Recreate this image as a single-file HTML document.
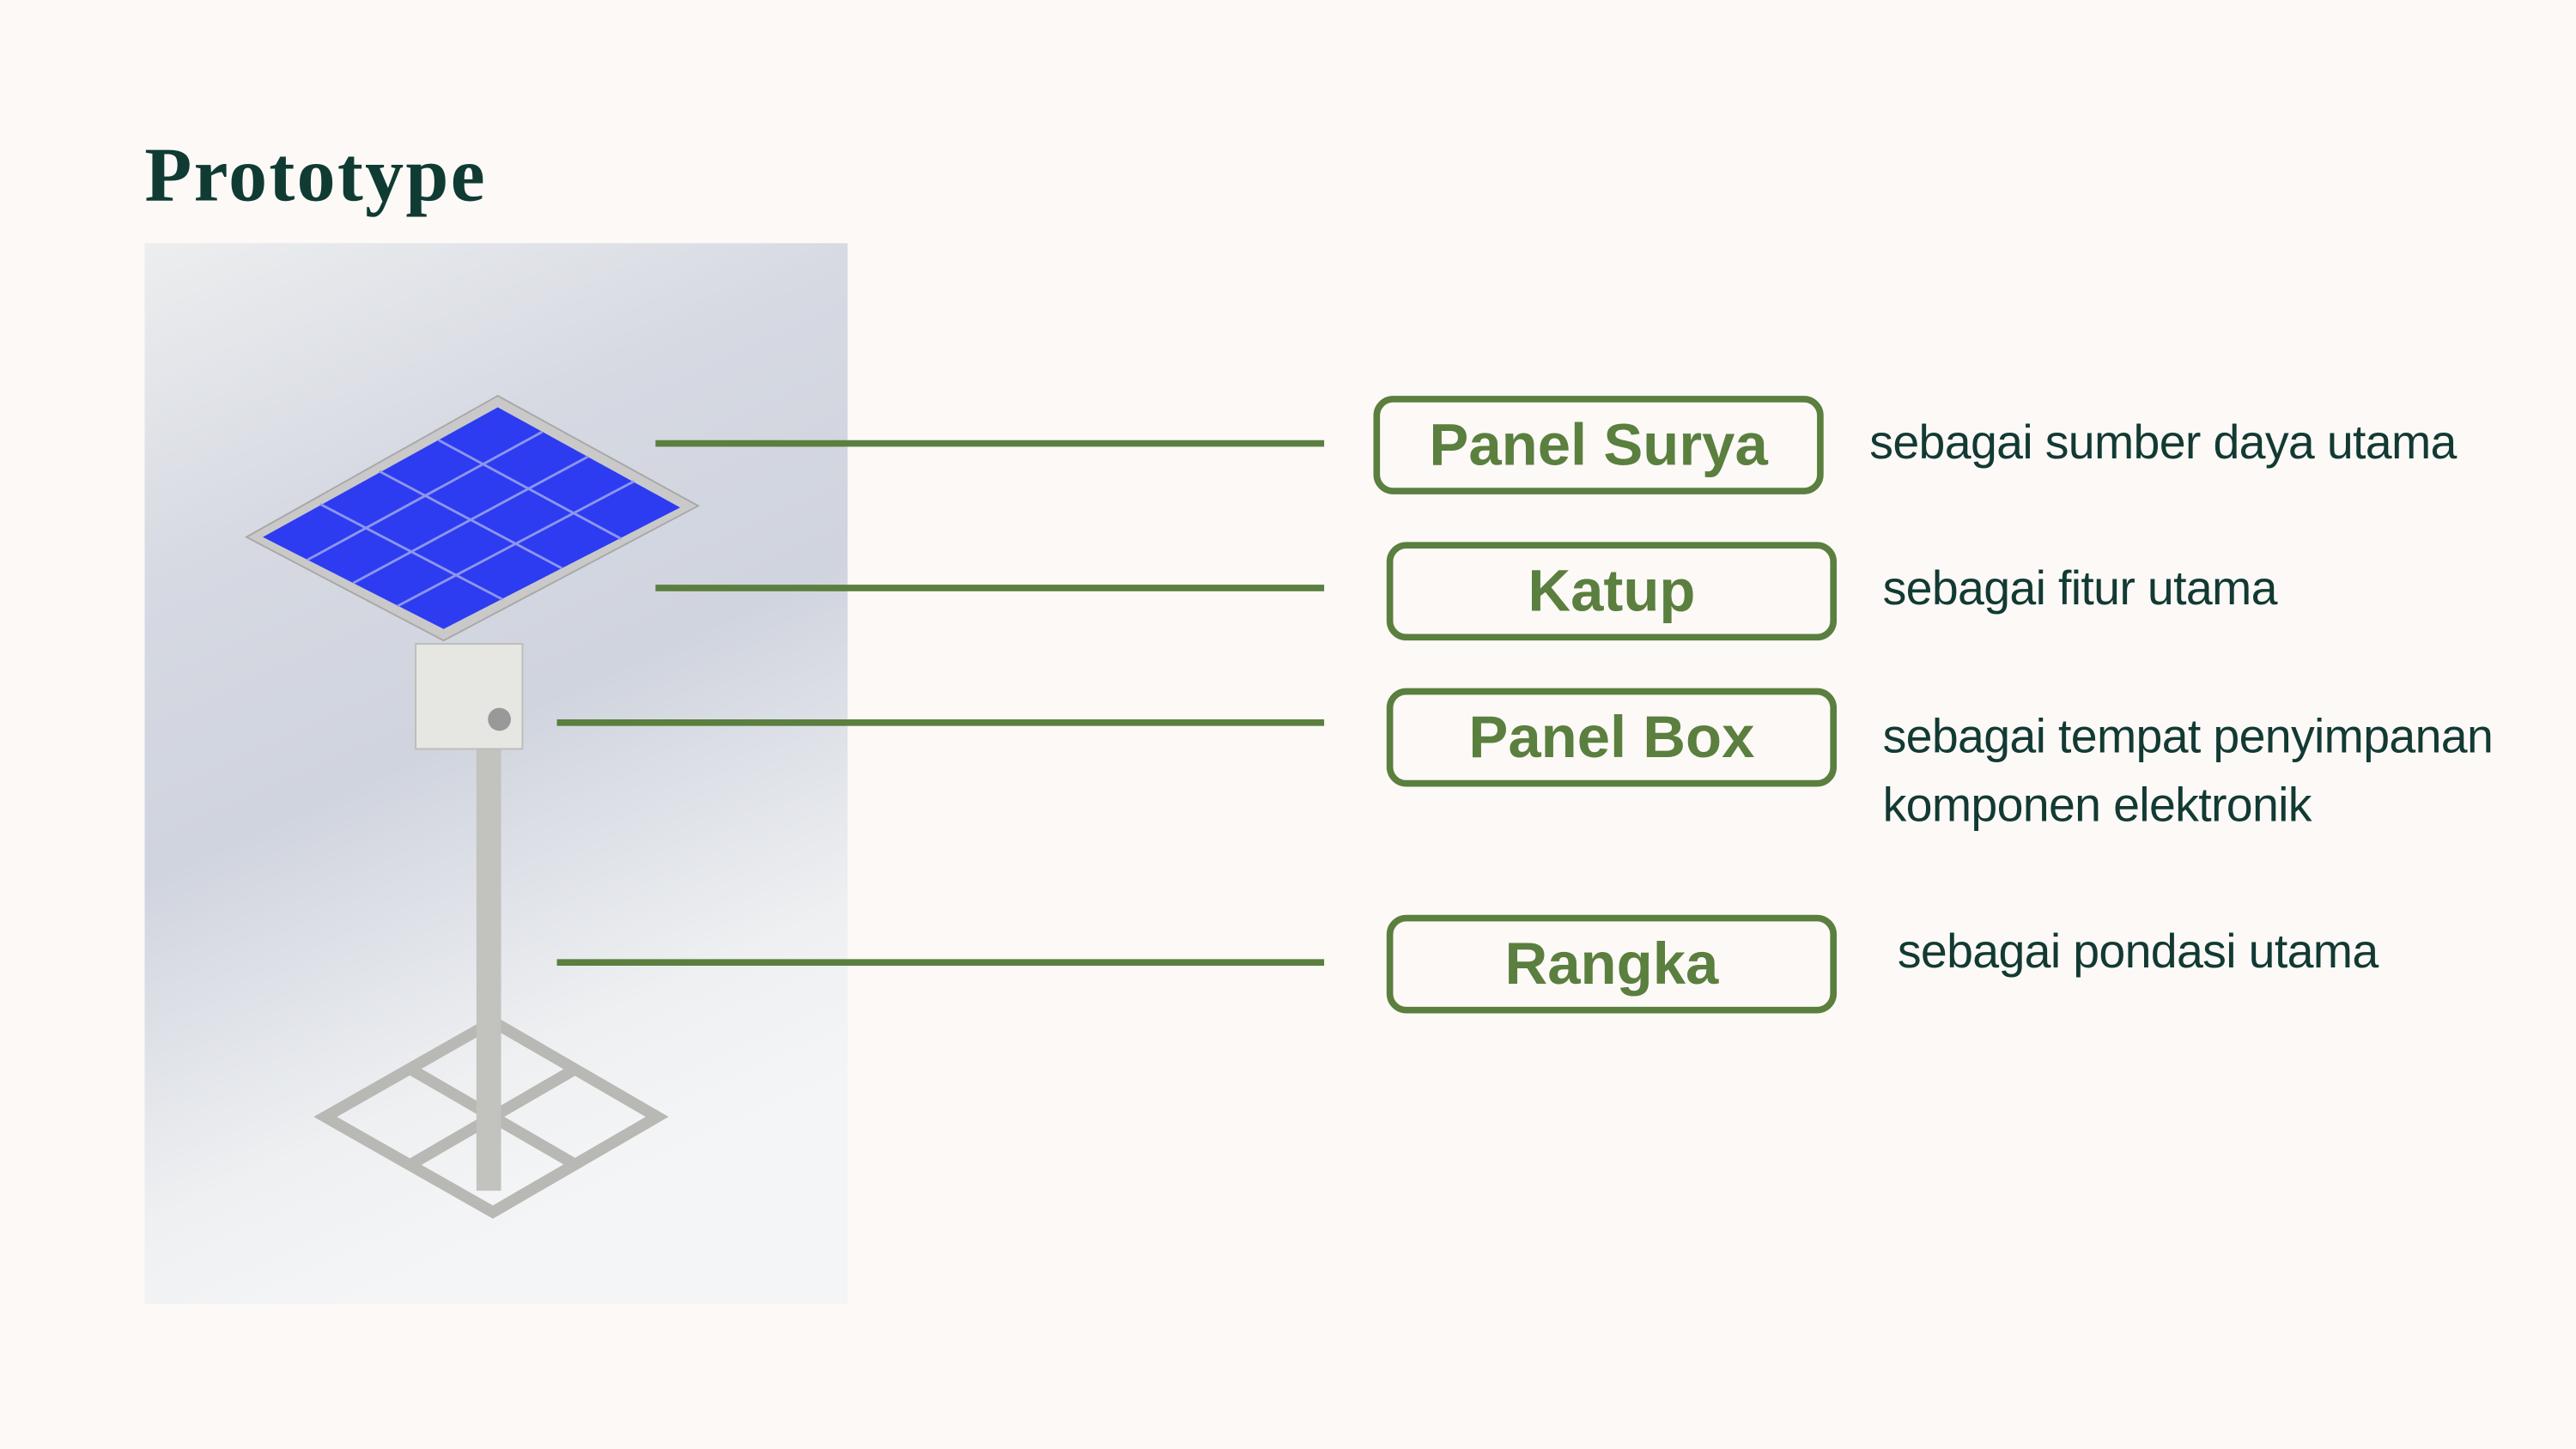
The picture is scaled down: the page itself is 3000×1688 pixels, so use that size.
<!DOCTYPE html>
<html><head><meta charset="utf-8">
<style>
html,body{margin:0;padding:0;background:#fdf9f7;}
#wrap{width:1568px;height:882px;transform:scale(1.91327);transform-origin:0 0;position:relative;background:#fdf9f7;font-family:"Liberation Sans",sans-serif;}
.title{position:absolute;left:88px;top:80px;font-family:"Liberation Serif",serif;font-weight:bold;font-size:47px;color:#0f3b33;letter-spacing:1.2px;}
.line{position:absolute;height:4px;background:#5a7f3e;}
.box{position:absolute;width:266px;height:52px;border:4px solid #5a7f3e;border-radius:12px;box-sizing:content-box;color:#5a7f3e;font-weight:bold;font-size:36px;text-align:center;line-height:52px;background:#fdf9f7;}
.desc{position:absolute;font-size:29px;color:#123a33;letter-spacing:-0.35px;line-height:42px;}
</style></head><body>
<div id="wrap">
<div class="title">Prototype</div>
<svg style="position:absolute;left:88px;top:148px" width="428" height="646" viewBox="88 148 428 646">
<defs>
<linearGradient id="bg" x1="0" y1="0" x2="0.3" y2="1">
<stop offset="0" stop-color="#eceeef"/><stop offset="0.3" stop-color="#d6d9e2"/><stop offset="0.55" stop-color="#d0d4de"/><stop offset="0.85" stop-color="#eef0f2"/><stop offset="1" stop-color="#f4f5f6"/>
</linearGradient>
</defs>
<rect x="88" y="148" width="428" height="646" fill="url(#bg)"/>
<g fill="none" stroke="#b8b8b4" stroke-width="7">
<polygon points="300,622 400,680 300,738 198,680"/>
<line x1="250" y1="651" x2="350" y2="709"/><line x1="350" y1="651" x2="250" y2="709"/>
</g>
<rect x="290" y="455" width="15" height="270" fill="#c2c2be"/>
<rect x="253" y="392" width="65" height="64" fill="#e6e6e2" stroke="#bdbdb8"/>
<circle cx="304" cy="438" r="7" fill="#999"/>
<polygon points="303,241 425,308 270,390 150,327" fill="#c9c9c9" stroke="#a8a8a8"/>
<polygon points="303,248 414,309 270,383 160,327" fill="#2d3cf0"/>
<g stroke="#8d96f0" stroke-width="1.5">
<line x1="231" y1="287" x2="342" y2="346"/><line x1="195" y1="307" x2="306" y2="365"/><line x1="267" y1="268" x2="378" y2="328"/>
<line x1="330" y1="263" x2="187" y2="341"/><line x1="358" y1="278" x2="215" y2="355"/><line x1="386" y1="293" x2="242" y2="369"/>
</g>
</svg>
<div class="line" style="left:399px;top:268px;width:407px"></div>
<div class="line" style="left:399px;top:356px;width:407px"></div>
<div class="line" style="left:339px;top:438px;width:467px"></div>
<div class="line" style="left:339px;top:584px;width:467px"></div>
<div class="box" style="left:836px;top:241px">Panel Surya</div>
<div class="box" style="left:844px;top:330px">Katup</div>
<div class="box" style="left:844px;top:419px">Panel Box</div>
<div class="box" style="left:844px;top:557px">Rangka</div>
<div class="desc" style="left:1138px;top:249px">sebagai sumber daya utama</div>
<div class="desc" style="left:1146px;top:338px">sebagai fitur utama</div>
<div class="desc" style="left:1146px;top:428px">sebagai tempat penyimpanan<br>komponen elektronik</div>
<div class="desc" style="left:1155px;top:559px">sebagai pondasi utama</div>
</div>
</body></html>
